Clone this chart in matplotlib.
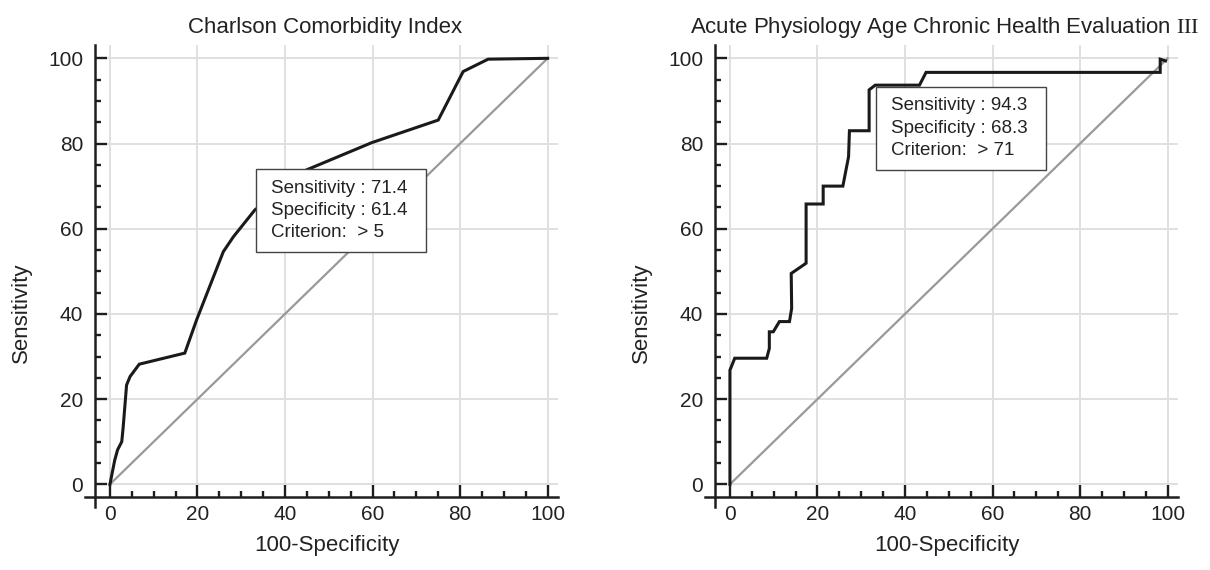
import matplotlib
matplotlib.use("Agg")
import matplotlib.pyplot as plt
from matplotlib.patches import Rectangle
from matplotlib.ticker import FixedLocator

plt.rcParams["font.family"] = ["Liberation Sans", "DejaVu Serif"]
plt.rcParams["mathtext.fontset"] = "custom"
plt.rcParams["mathtext.rm"] = "Liberation Serif"

# ROC curve: Charlson Comorbidity Index
cci_fpr = [0, 1.1, 1.75, 2.7, 3.0, 3.8, 4.6, 6.7, 17.1, 19.8, 25.9, 28.2, 33.1,
           44.9, 59.8, 75.0, 80.7, 86.4, 100]
cci_tpr = [0, 5.7, 8.1, 10.0, 13.1, 23.3, 25.3, 28.2, 30.8, 38.6, 54.6, 58.1, 64.4,
           73.8, 80.2, 85.5, 96.9, 99.8, 100]

# ROC curve: APACHE III
apache_fpr = [0, 0, 1.1, 8.4, 9.0, 9.0, 9.9, 11.3, 13.6, 14.1, 14.0, 17.4, 17.4,
              21.3, 21.3, 25.8, 27.1, 27.3, 31.8, 31.8, 33.2, 43.3, 44.8, 98.3,
              98.3, 99.5]
apache_tpr = [0, 26.8, 29.6, 29.6, 31.9, 35.8, 35.8, 38.2, 38.2, 41.3, 49.5, 51.9,
              65.8, 65.8, 70.0, 70.0, 76.9, 83.0, 83.0, 92.6, 93.7, 93.7, 96.7,
              96.7, 99.8, 99.4]

diag = [0, 100]
major_ticks = [0, 20, 40, 60, 80, 100]
minor_ticks = list(range(0, 101, 5))

titles = ["Charlson Comorbidity Index",
          "Acute Physiology Age Chronic Health Evaluation $\\mathrm{III}$"]
box_texts = ["Sensitivity : 71.4\nSpecificity : 61.4\nCriterion:  > 5",
             "Sensitivity : 94.3\nSpecificity : 68.3\nCriterion:  > 71"]
box_y = [54.6, 73.9]

XMIN, XMAX = -5.71, 102.35
YMIN, YMAX = -5.33, 103.12
XSPINE, YSPINE = -3.43, -2.91
dark = "#1e1e1e"
gridc = "#e0e0e0"

fig = plt.figure(figsize=(12.1, 5.7), dpi=100)
ax1 = fig.add_axes([0.0702, 0.1105, 0.3909, 0.8105])
ax2 = fig.add_axes([0.5826, 0.1105, 0.3909, 0.8105])

curves = [(cci_fpr, cci_tpr), (apache_fpr, apache_tpr)]

for i, ax in enumerate([ax1, ax2]):
    ax.set_xlim(XMIN, XMAX)
    ax.set_ylim(YMIN, YMAX)

    # grid
    ax.vlines(major_ticks, YSPINE, YMAX, color=gridc, lw=1.4, zorder=0)
    ax.hlines(major_ticks, XSPINE, XMAX, color=gridc, lw=1.4, zorder=0)

    ax.plot(diag, diag, color="#999999", lw=1.6, zorder=2)
    ax.plot(curves[i][0], curves[i][1], color="#1a1a1a", lw=2.2, zorder=3,
            solid_joinstyle="miter")

    ax.spines["top"].set_visible(False)
    ax.spines["right"].set_visible(False)
    ax.spines["left"].set_position(("data", XSPINE))
    ax.spines["bottom"].set_position(("data", YSPINE))
    for s in ["left", "bottom"]:
        ax.spines[s].set_linewidth(1.8)
        ax.spines[s].set_color(dark)
        ax.spines[s].set_zorder(5)

    ax.xaxis.set_major_locator(FixedLocator(major_ticks))
    ax.yaxis.set_major_locator(FixedLocator(major_ticks))
    ax.xaxis.set_minor_locator(FixedLocator(minor_ticks))
    ax.yaxis.set_minor_locator(FixedLocator(minor_ticks))
    ax.tick_params(which="major", direction="in", length=8.5, width=1.7,
                   color=dark, labelsize=15, labelcolor="#222222")
    ax.tick_params(which="minor", direction="in", length=4.5, width=1.7, color=dark)
    ax.tick_params(axis="x", which="major", pad=6)
    ax.tick_params(axis="y", which="major", pad=8.5)

    ax.set_title(titles[i], fontsize=16, color="#222222", pad=9, x=0.507)
    ax.set_xlabel("100-Specificity", fontsize=16, color="#222222")
    ax.set_ylabel("Sensitivity", fontsize=16, color="#222222")
    ax.xaxis.set_label_coords(0.512, -0.06)
    ax.yaxis.set_label_coords(-0.112, 0.42)

    rect = Rectangle((33.3, box_y[i]), 38.9, 19.4, facecolor="white",
                     edgecolor="#444444", lw=1.0, zorder=4)
    ax.add_patch(rect)
    ax.text(36.9, box_y[i] + 9.7, box_texts[i], fontsize=13.5, color="#222222",
            va="center", ha="left", linespacing=1.4, zorder=5)

fig.savefig("out.png", dpi=100)
